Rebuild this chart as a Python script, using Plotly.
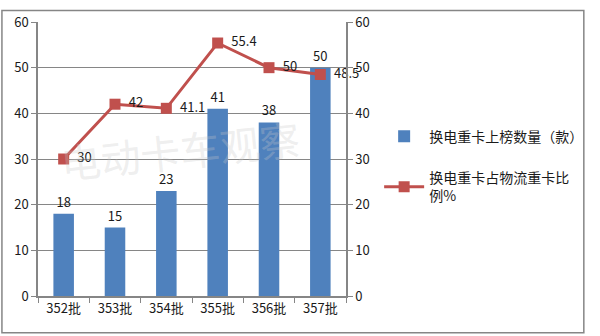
import plotly.graph_objects as go

categories = ["352批", "353批", "354批", "355批", "356批", "357批"]
bar_values = [18, 15, 23, 41, 38, 50]
line_values = [30, 42, 41.1, 55.4, 50, 48.5]
bar_name = "换电重卡上榜数量（款）"
line_name = "换电重卡占物流重卡比<br>例%"

font_family = "Noto Sans CJK SC, Noto Sans, sans-serif"
L, R, T, B = 38, 246, 13, 40
W, H = 600, 336
pw, ph = W - L - R, H - T - B

fig = go.Figure()
fig.add_trace(go.Bar(
    x=categories, y=bar_values, name=bar_name, legendgroup="a",
    marker=dict(color="#4F81BD", line=dict(width=0)),
    width=0.4,
    text=[str(v) for v in bar_values], textposition="outside",
    textfont=dict(size=13, color="#1a1a1a", family=font_family),
    cliponaxis=False,
))
fig.add_trace(go.Scatter(
    x=categories, y=line_values, name=line_name, yaxis="y2", legendgroup="b",
    mode="lines+markers+text",
    line=dict(color="#C0504D", width=3),
    marker=dict(symbol="square", size=11, color="#C0504D"),
    text=[("  %g" % v) for v in line_values], textposition="middle right",
    textfont=dict(size=13, color="#1a1a1a", family=font_family),
    cliponaxis=False,
))

axis_common = dict(range=[0, 60], dtick=10, tickfont=dict(size=13, color="#1a1a1a", family=font_family),
                   showline=True, linecolor="#868686", linewidth=1.5,
                   ticks="outside", ticklen=5, tickcolor="#868686")
fig.update_layout(
    width=W, height=H,
    margin=dict(l=L, r=R, t=T, b=B),
    paper_bgcolor="white", plot_bgcolor="white",
    font=dict(family=font_family),
    xaxis=dict(showline=True, linecolor="#868686", linewidth=1.5, ticks="outside",
               tickson="boundaries", ticklen=5, tickcolor="#868686",
               tickfont=dict(size=13, color="#1a1a1a", family=font_family)),
    yaxis=dict(**axis_common, showgrid=True, gridcolor="#868686", gridwidth=1, zeroline=False),
    yaxis2=dict(**axis_common, overlaying="y", side="right", showgrid=False, zeroline=False),
    legend=dict(x=(388 - L) / pw, y=(H - B - 115) / ph, xanchor="left", yanchor="top",
                font=dict(size=14, color="#1a1a1a", family=font_family),
                tracegroupgap=20, itemwidth=40, bgcolor="rgba(0,0,0,0)"),
    showlegend=True,
)
# outer chart border
fig.add_shape(type="rect", xref="paper", yref="paper",
              x0=(1 - L) / pw, x1=(W - 2 - L) / pw,
              y0=-(B - 2) / ph, y1=1 + (T - 1) / ph,
              line=dict(color="#868686", width=1.5), layer="below")
# watermark
fig.add_annotation(text="电动卡车观察", xref="paper", yref="paper",
                   x=(312 - L) / pw, y=(H - B - 145) / ph, showarrow=False,
                   textangle=-6, font=dict(size=40, color="rgba(200,200,200,0.3)", family=font_family))
fig.write_html("out.html")
